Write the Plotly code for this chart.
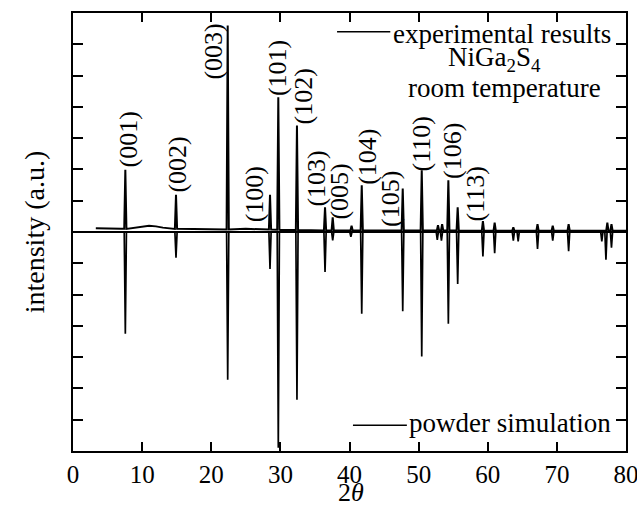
import plotly.graph_objects as go

# ---------------- data ----------------
# experimental background (2theta, intensity)
exp_bg_x = [3.3, 5, 7, 9, 10, 11, 12, 13, 16, 20, 25, 28, 30, 35, 40, 50, 60, 70, 80]
exp_bg_y = [0.12, 0.10, 0.10, 0.13, 0.17, 0.20, 0.18, 0.14, 0.10, 0.08, 0.10, 0.08, 0.06, 0.05, 0.05, 0.05, 0.04, 0.04, 0.04]

# experimental peaks: position, top intensity, local foot level
exp_pk_x = [7.57, 14.9, 22.38, 28.5, 29.7, 32.4, 36.46, 37.57, 40.3, 41.77, 47.7, 50.45,
            52.8, 53.4, 54.3, 55.65, 59.3, 61.0, 63.7, 67.2, 69.4, 71.7, 77.3, 77.9]
exp_pk_top = [1.99, 1.19, 6.60, 1.19, 4.31, 3.40, 0.79, 0.47, 0.20, 1.49, 1.39, 1.97,
              0.22, 0.25, 1.65, 0.79, 0.35, 0.30, 0.15, 0.25, 0.20, 0.25, 0.30, 0.25]
exp_pk_foot = [0.10, 0.10, 0.08, 0.08, 0.07, 0.06, 0.05, 0.05, 0.05, 0.05, 0.05, 0.05,
               0.05, 0.05, 0.05, 0.05, 0.04, 0.04, 0.04, 0.04, 0.04, 0.04, 0.04, 0.04]

# powder simulation peaks (drawn downward): position, depth
sim_pk_x = [7.57, 14.9, 22.38, 28.5, 29.7, 32.4, 36.46, 37.57, 40.2, 41.77, 47.7, 50.45,
            52.7, 53.3, 54.3, 55.65, 59.3, 61.0, 63.7, 64.4, 67.2, 69.4, 71.7, 76.5, 77.1, 77.9]
sim_pk_depth = [3.25, 0.82, 4.72, 1.18, 6.90, 5.36, 1.28, 0.27, 0.15, 2.61, 2.53, 3.98,
                0.25, 0.28, 2.93, 1.66, 0.78, 0.68, 0.28, 0.30, 0.54, 0.28, 0.61, 0.30, 0.89, 0.50]

# Miller index labels: text, centre 2theta, bottom intensity
hkl_text = ["(001)", "(002)", "(003)", "(100)", "(101)", "(102)", "(103)", "(005)",
            "(104)", "(105)", "(110)", "(106)", "(113)"]
hkl_x = [7.96, 15.05, 20.4, 26.3, 29.6, 33.4, 35.3, 38.5, 42.6, 45.9, 50.4, 54.9, 58.2]
hkl_y = [2.03, 1.23, 4.84, 0.27, 4.30, 3.40, 0.78, 0.37, 1.49, 0.14, 1.90, 1.65, 0.30]

x_ticks = [0, 10, 20, 30, 40, 50, 60, 70, 80]

# ---------------- build the line profiles ----------------
HW = 0.16
pts = [(x, y) for x, y in zip(exp_bg_x, exp_bg_y)]
for p, t, f in zip(exp_pk_x, exp_pk_top, exp_pk_foot):
    pts += [(p - HW, f), (p, t), (p + HW, f)]
pts.sort(key=lambda a: a[0])
exp_x = [a[0] for a in pts]
exp_y = [a[1] for a in pts]

spts = [(0.0, 0.0), (80.0, 0.0)]
for p, d in zip(sim_pk_x, sim_pk_depth):
    spts += [(p - HW, 0.0), (p, -d), (p + HW, 0.0)]
spts.sort(key=lambda a: a[0])
sim_x = [a[0] for a in spts]
sim_y = [a[1] for a in spts]

FONT = "Liberation Serif, Times New Roman, serif"

fig = go.Figure()
fig.add_trace(go.Scatter(x=exp_x, y=exp_y, mode="lines",
                         line=dict(color="black", width=2), showlegend=False, hoverinfo="skip"))
fig.add_trace(go.Scatter(x=sim_x, y=sim_y, mode="lines",
                         line=dict(color="black", width=1.7), showlegend=False, hoverinfo="skip"))

annotations = []
for t, x, y in zip(hkl_text, hkl_x, hkl_y):
    annotations.append(dict(x=x, y=y, xref="x", yref="y", text=t, showarrow=False,
                            textangle=-90, xanchor="center", yanchor="bottom",
                            font=dict(family=FONT, size=26, color="black"), borderpad=0))

annotations += [
    dict(x=78.1, y=6.33, xref="x", yref="y", text="experimental results", showarrow=False,
         xanchor="right", yanchor="middle", font=dict(family=FONT, size=27, color="black")),
    dict(x=61.0, y=5.53, xref="x", yref="y", text="NiGa<sub>2</sub>S<sub>4</sub>", showarrow=False,
         xanchor="center", yanchor="middle", font=dict(family=FONT, size=27, color="black")),
    dict(x=62.4, y=4.6, xref="x", yref="y", text="room temperature", showarrow=False,
         xanchor="center", yanchor="middle", font=dict(family=FONT, size=27, color="black")),
    dict(x=78.1, y=-6.1, xref="x", yref="y", text="powder simulation", showarrow=False,
         xanchor="right", yanchor="middle", font=dict(family=FONT, size=27, color="black")),
    dict(x=0.502, y=-0.13, xref="paper", yref="paper", text="2<i>θ</i>", showarrow=False,
         xanchor="center", yanchor="bottom", borderpad=0,
         font=dict(family=FONT, size=26, color="black")),
]

shapes = [
    dict(type="line", xref="x", yref="y", x0=38.2, x1=45.9, y0=6.4, y1=6.4,
         line=dict(color="black", width=1.5)),
    dict(type="line", xref="x", yref="y", x0=40.5, x1=48.3, y0=-6.18, y1=-6.18,
         line=dict(color="black", width=1.5)),
]

fig.update_layout(
    template="none",
    width=637, height=508,
    margin=dict(l=73, r=11, t=13, b=57, autoexpand=False),
    paper_bgcolor="white", plot_bgcolor="white",
    font=dict(family=FONT, color="black"),
    annotations=annotations, shapes=shapes,
    xaxis=dict(range=[0, 80], tickvals=x_ticks, ticktext=[str(v) for v in x_ticks],
               ticks="inside", ticklen=9, tickwidth=1.5, tickcolor="black",
               showline=True, linewidth=2, linecolor="black", mirror="ticks",
               showgrid=False, zeroline=False, automargin=False, ticklabeloverflow="allow",
               tickfont=dict(family=FONT, size=25, color="black")),
    xaxis2=dict(range=[0, 80], overlaying="x", anchor="free", position=0.5, side="bottom",
                tickvals=[10, 20, 30, 40, 50, 60, 70], ticks="outside", ticklen=9, tickwidth=1.5,
                tickcolor="black", showticklabels=False, showline=False, showgrid=False,
                zeroline=False, automargin=False),
    yaxis=dict(range=[-7, 7], dtick=1, tick0=0, ticks="inside", ticklen=10, tickwidth=1.5,
               tickcolor="black", showticklabels=False, automargin=False,
               showline=True, linewidth=2, linecolor="black", mirror="ticks",
               showgrid=False, zeroline=True, zerolinecolor="black", zerolinewidth=2,
               title=dict(text="intensity (a.u.)", font=dict(family=FONT, size=28, color="black"), standoff=18)),
)

fig.write_html("out.html")
